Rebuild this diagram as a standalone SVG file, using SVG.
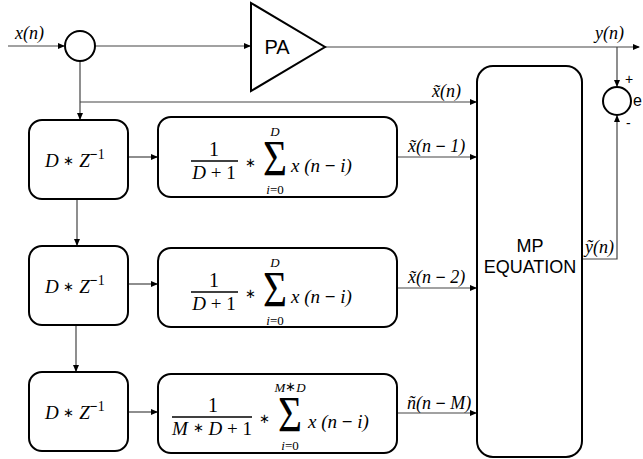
<svg xmlns="http://www.w3.org/2000/svg" width="643" height="459" viewBox="0 0 643 459">
<defs>
<marker id="ah" markerWidth="7" markerHeight="6" refX="6" refY="3" orient="auto" markerUnits="userSpaceOnUse">
<path d="M0,0 L7,3 L0,6 Z" fill="#000"/>
</marker>
<style>
.box{fill:#fff;stroke:#000;stroke-width:2}
.ln{fill:none;stroke:#444;stroke-width:1.2}
.ar{marker-end:url(#ah)}
.m{font-family:"Liberation Serif",serif;font-style:italic;font-size:19px;fill:#000}
.mr{font-family:"Liberation Serif",serif;font-style:normal;fill:#000}
.mb{font-family:"Liberation Serif",serif;font-style:normal;font-weight:bold;fill:#000}
.ast{font-family:"Liberation Serif",serif;font-style:normal;font-size:13px;fill:#000}
.sm{font-family:"Liberation Serif",serif;font-style:italic;font-size:13px;fill:#000}
.sig{font-family:"Liberation Serif",serif;font-style:normal;font-size:50px;fill:#000}
.lb{font-family:"Liberation Serif",serif;font-style:italic;font-size:18px;fill:#000}
.sans{font-family:"Liberation Sans",Arial,sans-serif;fill:#000}
</style>
</defs>

<g id="connectors">
<line class="ln ar" x1="8" y1="46" x2="64" y2="46"/>
<line class="ln ar" x1="95" y1="46" x2="250" y2="46"/>
<line class="ln ar" x1="325" y1="47" x2="639" y2="47"/>
<line class="ln ar" x1="617" y1="47" x2="617" y2="86"/>
<polyline class="ln ar" points="582,259 617,259 617,116"/>
<line class="ln ar" x1="80" y1="61" x2="80" y2="119"/>
<line class="ln ar" x1="80" y1="102" x2="476" y2="102"/>
<line class="ln ar" x1="128" y1="157" x2="157" y2="157"/>
<line class="ln ar" x1="397" y1="157" x2="476" y2="157"/>
<line class="ln ar" x1="77" y1="199" x2="77" y2="245"/>
<line class="ln ar" x1="128" y1="284" x2="157" y2="284"/>
<line class="ln ar" x1="397" y1="288" x2="476" y2="288"/>
<line class="ln ar" x1="76" y1="325" x2="76" y2="371"/>
<line class="ln ar" x1="128" y1="412" x2="157" y2="412"/>
<line class="ln ar" x1="397" y1="413" x2="476" y2="413"/>
<text class="lb" x="15" y="39" font-size="20">x(n)</text>
<text class="lb" x="595" y="39" font-size="20">y(n)</text>
<text class="lb" x="432" y="97">x̃(n)</text>
<text class="lb" x="408" y="152">x̃(n <tspan class="mb">−</tspan> 1)</text>
<text class="lb" x="408" y="283">x̃(n <tspan class="mb">−</tspan> 2)</text>
<text class="lb" x="407" y="409">ñ(n <tspan class="mb">−</tspan> M)</text>
<text class="lb" x="585" y="253">ỹ(n)</text>
<text class="sans" x="625" y="84" font-size="14">+</text>
<text class="sans" x="633" y="106" font-size="16">e</text>
<text class="sans" x="626" y="128" font-size="14">-</text>
</g>

<g id="sum1">
<circle cx="80" cy="46" r="15" fill="#fff" stroke="#000" stroke-width="2"/>
</g>

<g id="sum2">
<circle cx="617" cy="101" r="14" fill="#fff" stroke="#000" stroke-width="2"/>
</g>

<g id="pa">
<polygon points="251,3 251,91 325,47" fill="#fff" stroke="#000" stroke-width="2"/>
<text class="sans" x="277" y="54" font-size="20" text-anchor="middle">PA</text>
</g>

<g id="mp">
<rect class="box" x="477" y="66" width="105" height="391" rx="16"/>
<text class="sans" x="530" y="252" font-size="18" text-anchor="middle">MP</text>
<text class="sans" x="530" y="273" font-size="18" text-anchor="middle">EQUATION</text>
</g>

<g id="delay1">
<rect class="box" x="29" y="120" width="99" height="79" rx="13"/>
<text class="m" x="45" y="167">D <tspan class="ast" dy="-2">∗</tspan><tspan dy="2"> Z</tspan><tspan class="mb" font-size="14" dy="-8">−</tspan><tspan class="mr" font-size="14">1</tspan></text>
</g>
<g id="delay2">
<rect class="box" x="29" y="246" width="99" height="79" rx="13"/>
<text class="m" x="45" y="293">D <tspan class="ast" dy="-2">∗</tspan><tspan dy="2"> Z</tspan><tspan class="mb" font-size="14" dy="-8">−</tspan><tspan class="mr" font-size="14">1</tspan></text>
</g>
<g id="delay3">
<rect class="box" x="29" y="372" width="99" height="79" rx="13"/>
<text class="m" x="45" y="419">D <tspan class="ast" dy="-2">∗</tspan><tspan dy="2"> Z</tspan><tspan class="mb" font-size="14" dy="-8">−</tspan><tspan class="mr" font-size="14">1</tspan></text>
</g>

<g id="avg1">
<rect class="box" x="158" y="117" width="239" height="80" rx="13"/>
<text class="mr" x="214" y="156" text-anchor="middle" font-size="20">1</text>
<line x1="191" y1="161" x2="238" y2="161" stroke="#000" stroke-width="1.3"/>
<text class="m" x="214" y="179" text-anchor="middle" font-size="20">D<tspan class="mr"> + 1</tspan></text>
<text class="ast" x="250" y="167" text-anchor="middle">∗</text>
<text class="sig" x="263" y="175" textLength="24" lengthAdjust="spacingAndGlyphs">Σ</text>
<text class="sm" x="275" y="136" text-anchor="middle">D</text>
<text class="sm" x="275" y="194" text-anchor="middle">i<tspan class="mr">=0</tspan></text>
<text class="m" x="291" y="172">x (n <tspan class="mb">−</tspan> i)</text>
</g>

<g id="avg2">
<rect class="box" x="158" y="248" width="239" height="79" rx="13"/>
<text class="mr" x="214" y="287" text-anchor="middle" font-size="20">1</text>
<line x1="191" y1="292" x2="238" y2="292" stroke="#000" stroke-width="1.3"/>
<text class="m" x="214" y="310" text-anchor="middle" font-size="20">D<tspan class="mr"> + 1</tspan></text>
<text class="ast" x="250" y="298" text-anchor="middle">∗</text>
<text class="sig" x="263" y="306" textLength="24" lengthAdjust="spacingAndGlyphs">Σ</text>
<text class="sm" x="275" y="267" text-anchor="middle">D</text>
<text class="sm" x="275" y="325" text-anchor="middle">i<tspan class="mr">=0</tspan></text>
<text class="m" x="291" y="303">x (n <tspan class="mb">−</tspan> i)</text>
</g>

<g id="avg3">
<rect class="box" x="158" y="374" width="239" height="79" rx="13"/>
<text class="mr" x="213" y="412" text-anchor="middle" font-size="20">1</text>
<line x1="172" y1="417" x2="252" y2="417" stroke="#000" stroke-width="1.3"/>
<text class="m" x="212" y="435" text-anchor="middle" font-size="20">M <tspan class="ast" dy="-3">∗</tspan><tspan dy="3"> D</tspan><tspan class="mr"> + 1</tspan></text>
<text class="ast" x="264" y="423" text-anchor="middle">∗</text>
<text class="sig" x="278" y="431" textLength="24" lengthAdjust="spacingAndGlyphs">Σ</text>
<text class="sm" x="290" y="392" text-anchor="middle">M<tspan class="ast" font-size="10" dy="-1">∗</tspan><tspan dy="1">D</tspan></text>
<text class="sm" x="290" y="450" text-anchor="middle">i<tspan class="mr">=0</tspan></text>
<text class="m" x="308" y="428">x (n <tspan class="mb">−</tspan> i)</text>
</g>
</svg>
